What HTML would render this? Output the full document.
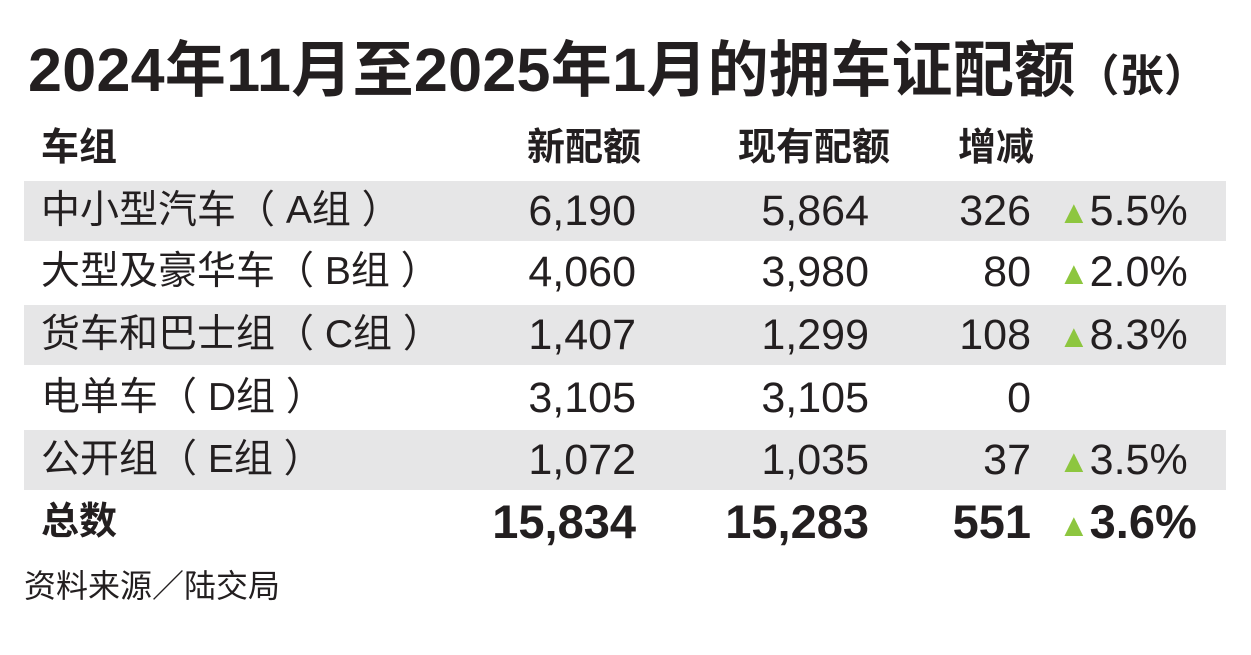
<!DOCTYPE html>
<html><head><meta charset="utf-8"><style>
body{margin:0;width:1251px;height:655px;background:#fff;overflow:hidden;font-family:"Liberation Sans","Noto Sans CJK SC",sans-serif;color:#231f20;position:relative}
.t{position:absolute;left:28px;top:32px;font-size:61px;font-weight:bold;letter-spacing:0.3px;white-space:nowrap;line-height:76px}
.t small{font-size:44px;font-weight:bold}
.row{position:absolute;left:24px;width:1202px;height:60px;font-size:43px;line-height:60px}
.g{background:#e6e6e7}
.row span{position:absolute;white-space:nowrap}
.l{left:17px;font-size:39px}
.c1{right:590px}.c2{right:357px}.c3{right:195px}
.p{left:1034px}
.tri{color:#8dc63f;font-size:32px;vertical-align:2px}
.h{font-weight:bold;font-size:38px}
.b{font-weight:bold;font-size:47px}
.src{position:absolute;left:24px;top:566px;font-size:32px;line-height:40px}
</style></head><body>
<div class="t">2024年11月至2025年1月的拥车证配额<small>（张）</small></div>
<div class="row h" style="top:118px"><span class="l" style="font-size:38px">车组</span><span class="c1" style="right:585px">新配额</span><span class="c2" style="right:336px">现有配额</span><span style="left:934px">增减</span></div>
<div class="row g" style="top:181px"><span class="l">中小型汽车（ A组 ）</span><span class="c1">6,190</span><span class="c2">5,864</span><span class="c3">326</span><span class="p"><span class="tri" style="position:static">▲</span>5.5%</span></div>
<div class="row" style="top:242px"><span class="l">大型及豪华车（ B组 ）</span><span class="c1">4,060</span><span class="c2">3,980</span><span class="c3">80</span><span class="p"><span class="tri" style="position:static">▲</span>2.0%</span></div>
<div class="row g" style="top:305px"><span class="l">货车和巴士组（ C组 ）</span><span class="c1">1,407</span><span class="c2">1,299</span><span class="c3">108</span><span class="p"><span class="tri" style="position:static">▲</span>8.3%</span></div>
<div class="row" style="top:368px"><span class="l">电单车（ D组 ）</span><span class="c1">3,105</span><span class="c2">3,105</span><span class="c3">0</span></div>
<div class="row g" style="top:430px"><span class="l">公开组（ E组 ）</span><span class="c1">1,072</span><span class="c2">1,035</span><span class="c3">37</span><span class="p"><span class="tri" style="position:static">▲</span>3.5%</span></div>
<div class="row b" style="top:492px"><span class="l" style="font-size:38px;font-weight:bold">总数</span><span class="c1">15,834</span><span class="c2">15,283</span><span class="c3">551</span><span class="p"><span class="tri" style="position:static">▲</span>3.6%</span></div>
<div class="src">资料来源／陆交局</div>
</body></html>
